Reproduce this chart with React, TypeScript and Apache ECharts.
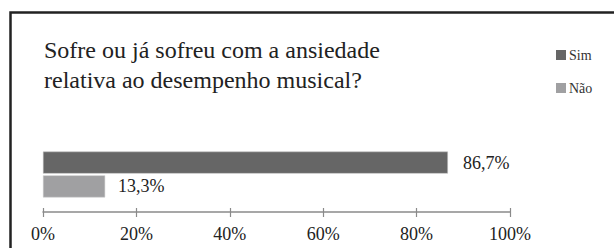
import React, { useEffect, useRef } from "react";
import * as echarts from "echarts";

const titleLines = ["Sofre ou já sofreu com a ansiedade", "relativa ao desempenho musical?"];
const categories = [""];
const seriesNames = ["Sim", "Não"];
const simValues = [86.7];
const naoValues = [13.3];
const xTicks = [0, 20, 40, 60, 80, 100];

const SERIF = "Times New Roman, Times, serif";

export default function App() {
  const ref = useRef<HTMLDivElement>(null);
  useEffect(() => {
    if (!ref.current) return;
    const chart = echarts.init(ref.current, null, { renderer: "svg" });
    const fmt = (v: number) => String(v).replace(".", ",") + "%";
    chart.setOption({
      animation: false,
      backgroundColor: "#ffffff",
      textStyle: { fontFamily: SERIF },
      title: {
        text: titleLines.join("\n"),
        left: 44,
        top: 35,
        padding: 0,
        textStyle: { fontFamily: SERIF, fontSize: 24, fontWeight: "normal", color: "#222", lineHeight: 30 },
      },
      legend: {
        orient: "vertical",
        left: 556,
        top: 48,
        padding: 0,
        itemWidth: 10,
        itemHeight: 10,
        itemGap: 19,
        icon: "rect",
        data: seriesNames,
        itemStyle: { borderWidth: 0 },
        textStyle: { fontFamily: SERIF, fontSize: 14, color: "#333", padding: [0, 0, 0, -2] },
      },
      graphic: [
        {
          type: "rect",
          shape: { x: 10.5, y: 12.5, width: 700, height: 400 },
          style: { fill: "none", stroke: "#222", lineWidth: 2.5 },
          silent: true,
        },
      ],
      grid: { left: 43, right: 104, top: 137, bottom: 36 },
      xAxis: [
        {
          type: "value",
          min: xTicks[0],
          max: xTicks[xTicks.length - 1],
          interval: 20,
          position: "bottom",
          splitLine: { show: false },
          axisLine: { show: true, lineStyle: { color: "#8a8a8a", width: 1.5 } },
          axisTick: { show: true, length: 5, lineStyle: { color: "#8a8a8a", width: 1.2 } },
          axisLabel: {
            margin: 13,
            formatter: (v: number) => v + "%",
            fontFamily: SERIF,
            fontSize: 18,
            color: "#222",
          },
        },
        {
          type: "value",
          min: xTicks[0],
          max: xTicks[xTicks.length - 1],
          interval: 20,
          position: "bottom",
          splitLine: { show: false },
          axisLine: { show: false },
          axisTick: { show: true, inside: true, length: 4, lineStyle: { color: "#8a8a8a", width: 1.2 } },
          axisLabel: { show: false },
        },
      ],
      yAxis: {
        type: "category",
        data: categories,
        axisLine: { show: false },
        axisTick: { show: false },
        axisLabel: { show: false },
      },
      series: [
        {
          name: seriesNames[0],
          type: "bar",
          data: simValues,
          barWidth: 22,
          barGap: "8%",
          itemStyle: { color: "#666666", borderColor: "#bdbdbd", borderWidth: 0.5 },
          label: {
            show: true,
            position: "right",
            distance: 15,
            formatter: (p: any) => fmt(p.value),
            fontFamily: SERIF,
            fontSize: 18,
            color: "#222",
          },
        },
        {
          name: seriesNames[1],
          type: "bar",
          data: naoValues,
          barWidth: 22,
          barGap: "8%",
          itemStyle: { color: "#a0a0a2", borderColor: "#c8c8c8", borderWidth: 0.5 },
          label: {
            show: true,
            position: "right",
            distance: 13,
            formatter: (p: any) => fmt(p.value),
            fontFamily: SERIF,
            fontSize: 18,
            color: "#222",
          },
        },
      ],
    });
    return () => chart.dispose();
  }, []);
  return (
    <div
      ref={ref}
      style={{ position: "fixed", left: 0, top: 0, width: 614, height: 248 }}
    />
  );
}
